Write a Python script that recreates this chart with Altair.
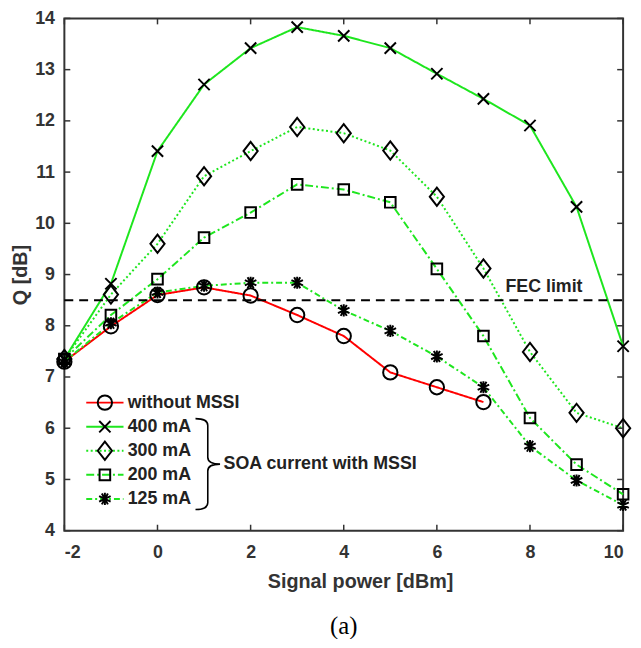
import altair as alt
import pandas as pd

# ---------------- data ----------------
power_dbm = [-2, -1, 0, 1, 2, 3, 4, 5, 6, 7, 8, 9, 10]
q_400mA = [7.35, 8.82, 11.41, 12.71, 13.42, 13.83, 13.66, 13.42, 12.92, 12.43, 11.91, 10.32, 7.6]
q_300mA = [7.35, 8.61, 9.6, 10.92, 11.41, 11.88, 11.76, 11.42, 10.52, 9.12, 7.49, 6.3, 6.0]
q_200mA = [7.35, 8.21, 8.91, 9.72, 10.21, 10.76, 10.66, 10.41, 9.11, 7.8, 6.2, 5.29, 4.71]
q_125mA = [7.3, 8.05, 8.65, 8.78, 8.84, 8.84, 8.3, 7.9, 7.4, 6.8, 5.65, 4.98, 4.5]
power_without = [-2, -1, 0, 1, 2, 3, 4, 5, 6, 7]
q_without = [7.3, 7.99, 8.6, 8.75, 8.59, 8.21, 7.8, 7.09, 6.8, 6.51]

series_names = ["without MSSI", "400 mA", "300 mA", "200 mA", "125 mA"]
x_ticks = [-2, 0, 2, 4, 6, 8, 10]
y_ticks = [4, 5, 6, 7, 8, 9, 10, 11, 12, 13, 14]
fec_limit = 8.5
fec_label = "FEC limit"
brace_label = "SOA current with MSSI"
x_title = "Signal power [dBm]"
y_title = "Q [dB]"
caption = "(a)"

# ---------------- layout / style ----------------
W, H = 565, 518
X_DOMAIN = [-2, 10]
Y_DOMAIN = [4, 14]
GREEN = "#1ee61e"
RED = "#ff0000"
INK = "#333333"
FONT = "Liberation Sans"

xs = alt.Scale(domain=X_DOMAIN, nice=False, zero=False)
ys = alt.Scale(domain=Y_DOMAIN, nice=False, zero=False)

X_PATH = "M-1,-1L1,1M-1,1L1,-1"
DIAMOND_PATH = "M0,-1L0.78,0L0,1L-0.78,0Z"
SQUARE_PATH = "M-1,-1L1,-1L1,1L-1,1Z"
AST_PATH = "M0,-1L0,1M-0.95,-0.45L0.95,0.45M-0.95,0.45L0.95,-0.45M-0.5,-0.9L0.5,0.9M-0.5,0.9L0.5,-0.9"
BRACE_PATH = "M-0.27,-1Q0,-1 0,-0.85L0,-0.15Q0,0 0.27,0Q0,0 0,0.15L0,0.85Q0,1 -0.27,1"

styles = {
    "without MSSI": dict(color=RED, dash=[1, 0], shape="circle", size=210),
    "400 mA": dict(color=GREEN, dash=[1, 0], shape=X_PATH, size=130),
    "300 mA": dict(color=GREEN, dash=[2, 2.5], shape=DIAMOND_PATH, size=340),
    "200 mA": dict(color=GREEN, dash=[8, 3, 2, 3], shape=SQUARE_PATH, size=115),
    "125 mA": dict(color=GREEN, dash=[6, 3, 2, 3], shape=AST_PATH, size=150),
}

xs_list = [power_without, power_dbm, power_dbm, power_dbm, power_dbm]
qs_list = [q_without, q_400mA, q_300mA, q_200mA, q_125mA]

frames = {}
for name, px, qv in zip(series_names, xs_list, qs_list):
    frames[name] = pd.DataFrame({"power": px, "q": qv})

x_axis = alt.Axis(values=x_ticks, title=x_title, labelPadding=13, titlePadding=10,
                  labelExpr="'' + datum.value", labelFontSize=18, titleFontSize=20,
                  titleX=299, titleAlign="center")
y_axis = alt.Axis(values=y_ticks, title=y_title, labelPadding=10, titlePadding=4,
                  labelExpr="'' + datum.value", labelFontSize=18, titleFontSize=20)


def X(field):
    return alt.X(field, scale=xs, axis=x_axis)


def Y(field):
    return alt.Y(field, scale=ys, axis=y_axis)


layers = []
# lines
for name in series_names:
    st = styles[name]
    layers.append(
        alt.Chart(frames[name]).mark_line(color=st["color"], strokeWidth=2,
                                          strokeDash=st["dash"], clip=False)
        .encode(x=X("power:Q"), y=Y("q:Q"))
    )

# FEC limit
fec_df = pd.DataFrame({"x0": [X_DOMAIN[0]], "x1": [X_DOMAIN[1]], "q": [fec_limit]})
layers.append(
    alt.Chart(fec_df).mark_rule(color="black", strokeWidth=2, strokeDash=[9, 6])
    .encode(x=X("x0:Q"), x2="x1:Q", y=Y("q:Q"))
)
layers.append(
    alt.Chart(pd.DataFrame({"x": [8.3], "y": [8.76], "t": [fec_label]}))
    .mark_text(font=FONT, fontWeight="bold", fontSize=18, color="#222222")
    .encode(x=X("x:Q"), y=Y("y:Q"), text="t:N")
)

# markers
for name in series_names:
    st = styles[name]
    layers.append(
        alt.Chart(frames[name]).mark_point(shape=st["shape"], size=st["size"], filled=False,
                                           stroke="black", strokeWidth=2, opacity=1,
                                           clip=False)
        .encode(x=X("power:Q"), y=Y("q:Q"))
    )

# inside ticks (MATLAB box style)
ty = 6 * (Y_DOMAIN[1] - Y_DOMAIN[0]) / H
tx = 6 * (X_DOMAIN[1] - X_DOMAIN[0]) / W
for y0, y1 in [(Y_DOMAIN[0], Y_DOMAIN[0] + ty), (Y_DOMAIN[1], Y_DOMAIN[1] - ty)]:
    tdf = pd.DataFrame({"t": x_ticks, "a": [y0] * len(x_ticks), "b": [y1] * len(x_ticks)})
    layers.append(
        alt.Chart(tdf).mark_rule(color=INK, strokeWidth=1.5)
        .encode(x=X("t:Q"), y=Y("a:Q"), y2="b:Q")
    )
for x0, x1 in [(X_DOMAIN[0], X_DOMAIN[0] + tx), (X_DOMAIN[1], X_DOMAIN[1] - tx)]:
    tdf = pd.DataFrame({"t": y_ticks, "a": [x0] * len(y_ticks), "b": [x1] * len(y_ticks)})
    layers.append(
        alt.Chart(tdf).mark_rule(color=INK, strokeWidth=1.5)
        .encode(y=Y("t:Q"), x=X("a:Q"), x2="b:Q")
    )

# custom legend (in data coordinates)
LEG_TOP, LEG_STEP = 6.5, 0.47
LEG_X1, LEG_X2, LEG_XM, LEG_XT = -1.53, -0.73, -1.13, -0.64
for i, name in enumerate(series_names):
    st = styles[name]
    ly = LEG_TOP - i * LEG_STEP
    ldf = pd.DataFrame({"x1": [LEG_X1], "x2": [LEG_X2], "xm": [LEG_XM], "xt": [LEG_XT],
                        "y": [ly], "label": [name]})
    layers.append(
        alt.Chart(ldf).mark_rule(color=st["color"], strokeWidth=2, strokeDash=st["dash"])
        .encode(x=X("x1:Q"), x2="x2:Q", y=Y("y:Q"))
    )
    layers.append(
        alt.Chart(ldf).mark_point(shape=st["shape"], size=st["size"], filled=False,
                                  stroke="black", strokeWidth=2, opacity=1)
        .encode(x=X("xm:Q"), y=Y("y:Q"))
    )
    layers.append(
        alt.Chart(ldf).mark_text(align="left", baseline="middle", font=FONT,
                                 fontWeight="bold", fontSize=18, color="#222222")
        .encode(x=X("xt:Q"), y=Y("y:Q"), text="label:N")
    )

# brace + group label
brace_df = pd.DataFrame({"x": [1.08], "y": [5.3], "t": [brace_label], "xt": [1.42]})
layers.append(
    alt.Chart(brace_df).mark_point(shape=BRACE_PATH, size=8464, filled=False,
                                   stroke="black", strokeWidth=1.6, opacity=1)
    .encode(x=X("x:Q"), y=Y("y:Q"))
)
layers.append(
    alt.Chart(brace_df).mark_text(align="left", baseline="middle", font=FONT,
                                  fontWeight="bold", fontSize=18, color="#222222")
    .encode(x=X("xt:Q"), y=Y("y:Q"), text="t:N")
)

chart = (
    alt.layer(*layers)
    .properties(
        width=W, height=H,
        padding={"left": 57, "top": 7, "right": 10, "bottom": 106},
        autosize=alt.AutoSizeParams(type="none"),
        title=alt.TitleParams(caption, orient="bottom", anchor="middle",
                              font="Liberation Serif", fontSize=25, fontWeight="normal",
                              color="black", offset=23),
    )
    .configure_view(stroke=INK, strokeWidth=2)
    .configure_axis(
        labelFont=FONT, labelFontWeight="bold", labelColor=INK,
        titleFont=FONT, titleFontWeight="bold", titleColor=INK,
        domain=False, ticks=False, grid=False,
    )
)

chart.save("out.html", embed_options={"renderer": "svg", "actions": False})
